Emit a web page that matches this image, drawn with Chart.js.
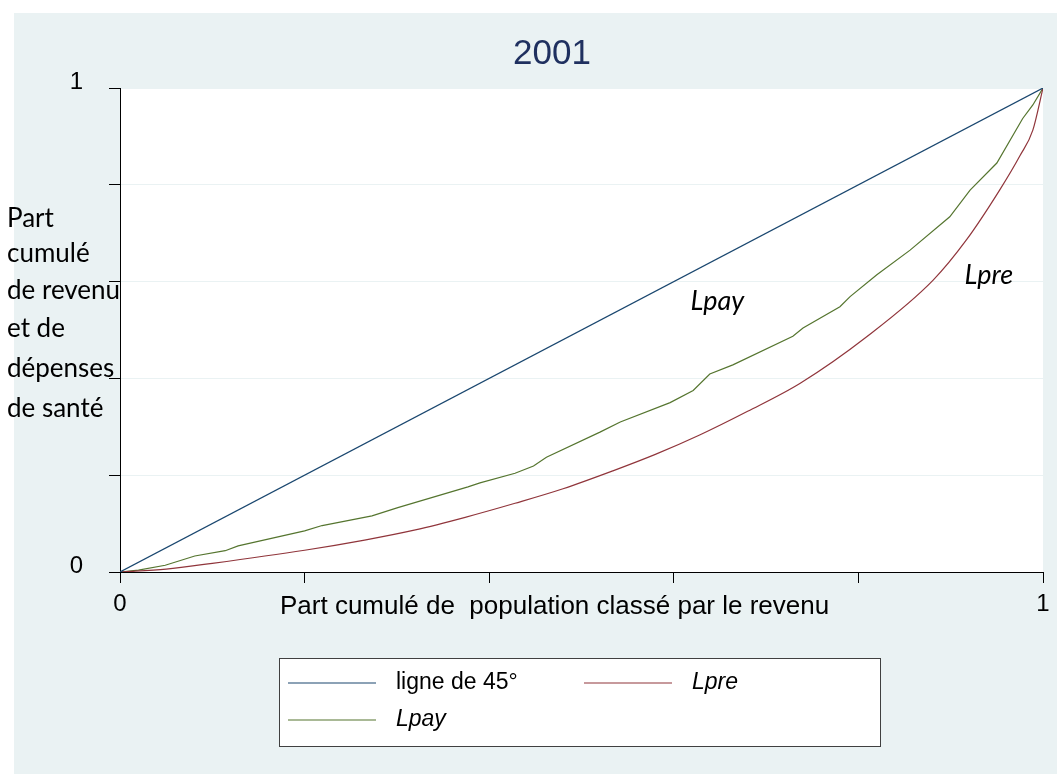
<!doctype html>
<html>

<head>
    <title>2001</title>
    <script src="https://cdn.jsdelivr.net/npm/chart.js@4/dist/chart.umd.min.js"></script>
    <style>
    body {
        margin: 0;
        background: #ffffff;
    }
    #container {
        width: 1057px;
        height: 774px;
    }
    </style>
</head>

<body>
    <div id="container">
        <canvas id="canvas"></canvas>
    </div>

    <script>
        // line of equality
        var eqX = [0, 1];
        var eqY = [0, 1];

        // Lpre : income concentration curve
        var lpreX = [0, 0.05, 0.1, 0.2, 0.265, 0.32, 0.374, 0.428, 0.48, 0.534, 0.58, 0.628, 0.68, 0.737, 0.809, 0.881, 0.917, 0.953, 0.975, 0.989, 1];
        var lpreY = [0, 0.006, 0.018, 0.045, 0.066, 0.087, 0.113, 0.142, 0.172, 0.209, 0.243, 0.283, 0.332, 0.39, 0.486, 0.603, 0.686, 0.789, 0.86, 0.913, 1];

        // Lpay : health payments concentration curve
        var lpayX = [0, 0.02, 0.049, 0.081, 0.114, 0.128, 0.2, 0.219, 0.273, 0.301, 0.377, 0.39, 0.428, 0.448, 0.462, 0.52, 0.542, 0.596, 0.621, 0.639, 0.664, 0.729, 0.74, 0.78, 0.791, 0.82, 0.856, 0.899, 0.921, 0.95, 0.978, 0.989, 1];
        var lpayY = [0, 0.004, 0.014, 0.033, 0.044, 0.054, 0.085, 0.096, 0.116, 0.133, 0.176, 0.184, 0.204, 0.219, 0.237, 0.289, 0.31, 0.35, 0.375, 0.409, 0.428, 0.487, 0.504, 0.548, 0.569, 0.614, 0.665, 0.734, 0.789, 0.845, 0.937, 0.965, 1];

        var tickValues = [0, 0.2, 0.4, 0.6, 0.8, 1];
        var tickLabels = ['0', '', '', '', '', '1'];

        var seriesNames = ['ligne de 45°', 'Lpre', 'Lpay'];
        var seriesColors = ['#1a476f', '#90353b', '#55752f'];

        var BG = '#eaf2f3';
        var SANS = '"Liberation Sans", Arial, sans-serif';
        var CAL = 'Lato, "Open Sans", sans-serif';

        function toPoints(xs, ys) {
            return xs.map(function(x, i) { return { x: x, y: ys[i] }; });
        }

        function tickText(value) {
            var i = tickValues.indexOf(Math.round(value * 10) / 10);
            return i < 0 ? '' : tickLabels[i];
        }

        var chartData = {
            datasets: [{
                label: seriesNames[0],
                data: toPoints(eqX, eqY),
                borderColor: seriesColors[0]
            }, {
                label: seriesNames[1],
                data: toPoints(lpreX, lpreY),
                borderColor: seriesColors[1],
                cubicInterpolationMode: 'monotone'
            }, {
                label: seriesNames[2],
                data: toPoints(lpayX, lpayY),
                borderColor: seriesColors[2]
            }]
        };
        chartData.datasets.forEach(function(ds) {
            ds.borderWidth = 1.2;
            ds.pointRadius = 0;
            ds.fill = false;
        });

        // stata-like background, title, axis titles, labels and legend
        var decorations = {
            id: 'decorations',
            beforeDraw: function(chart) {
                var ctx = chart.ctx, a = chart.chartArea;
                ctx.save();
                ctx.fillStyle = BG;
                ctx.fillRect(14, 13, chart.width - 14, chart.height - 13);
                ctx.fillStyle = '#ffffff';
                ctx.fillRect(a.left, a.top, a.right - a.left, a.bottom - a.top);
                ctx.restore();
            },
            afterDraw: function(chart) {
                var ctx = chart.ctx;
                var xs = chart.scales.x, ys = chart.scales.y;
                ctx.save();

                // title
                ctx.fillStyle = '#1f305f';
                ctx.font = '35px ' + SANS;
                ctx.textAlign = 'center';
                ctx.textBaseline = 'alphabetic';
                ctx.fillText('2001', 552, 64);

                // x axis title
                ctx.fillStyle = '#000000';
                ctx.font = '26px ' + SANS;
                ctx.textAlign = 'left';
                ctx.fillText('Part cumulé de  population classé par le revenu', 280, 614);

                // y axis title
                ctx.font = '26px ' + CAL;
                var yLines = ['Part', 'cumulé', 'de revenu', 'et de', 'dépenses', 'de santé'];
                var yBase = [227, 262, 299, 337, 377, 417];
                yLines.forEach(function(t, i) { ctx.fillText(t, 7, yBase[i]); });

                // curve labels
                ctx.font = 'italic 27px ' + CAL;
                ctx.fillText('Lpay', xs.getPixelForValue(0.618), ys.getPixelForValue(0.541));
                ctx.fillText('Lpre', xs.getPixelForValue(0.915), ys.getPixelForValue(0.595));

                // legend
                ctx.fillStyle = '#ffffff';
                ctx.fillRect(279.5, 658.5, 601, 88);
                ctx.strokeStyle = '#404040';
                ctx.lineWidth = 1;
                ctx.strokeRect(279.5, 658.5, 601, 88);
                var slots = [[288, 683], [584, 683], [288, 720]];
                chart.data.datasets.forEach(function(ds, i) {
                    var s = slots[i];
                    ctx.strokeStyle = ds.borderColor;
                    ctx.lineWidth = 1.2;
                    ctx.beginPath();
                    ctx.moveTo(s[0], s[1]);
                    ctx.lineTo(s[0] + 88, s[1]);
                    ctx.stroke();
                    ctx.fillStyle = '#000000';
                    ctx.font = (i === 0 ? '' : 'italic ') + '23px ' + SANS;
                    ctx.textBaseline = 'middle';
                    ctx.fillText(ds.label, s[0] + 108, s[1]);
                });
                ctx.restore();
            }
        };

        window.onload = function() {
            var ctx = document.getElementById('canvas').getContext('2d');
            window.myLine = new Chart(ctx, {
                type: 'line',
                data: chartData,
                plugins: [decorations],
                options: {
                    responsive: true,
                    maintainAspectRatio: false,
                    animation: false,
                    layout: {
                        padding: { left: 0, top: 88, right: 14, bottom: 0 }
                    },
                    plugins: {
                        legend: { display: false },
                        title: { display: false },
                        tooltip: { enabled: false }
                    },
                    scales: {
                        x: {
                            type: 'linear',
                            min: 0,
                            max: 1,
                            afterFit: function(scale) { scale.height = 202; },
                            afterBuildTicks: function(scale) {
                                scale.ticks = tickValues.map(function(v) { return { value: v }; });
                            },
                            ticks: {
                                autoSkip: false,
                                maxRotation: 0,
                                padding: 7,
                                color: '#000000',
                                font: { family: SANS, size: 24 },
                                callback: tickText
                            },
                            grid: {
                                drawOnChartArea: false,
                                drawTicks: true,
                                tickLength: 11,
                                tickColor: '#000000'
                            },
                            border: { color: '#000000', width: 1 }
                        },
                        y: {
                            type: 'linear',
                            min: 0,
                            max: 1,
                            afterFit: function(scale) { scale.width = 120; },
                            afterBuildTicks: function(scale) {
                                scale.ticks = tickValues.map(function(v) { return { value: v }; });
                            },
                            ticks: {
                                autoSkip: false,
                                padding: 26,
                                labelOffset: -6,
                                color: '#000000',
                                font: { family: SANS, size: 24 },
                                callback: tickText
                            },
                            grid: {
                                color: BG,
                                lineWidth: 1,
                                drawTicks: true,
                                tickLength: 11,
                                tickColor: '#000000'
                            },
                            border: { color: '#000000', width: 1 }
                        }
                    }
                }
            });
        };
    </script>
</body>

</html>
